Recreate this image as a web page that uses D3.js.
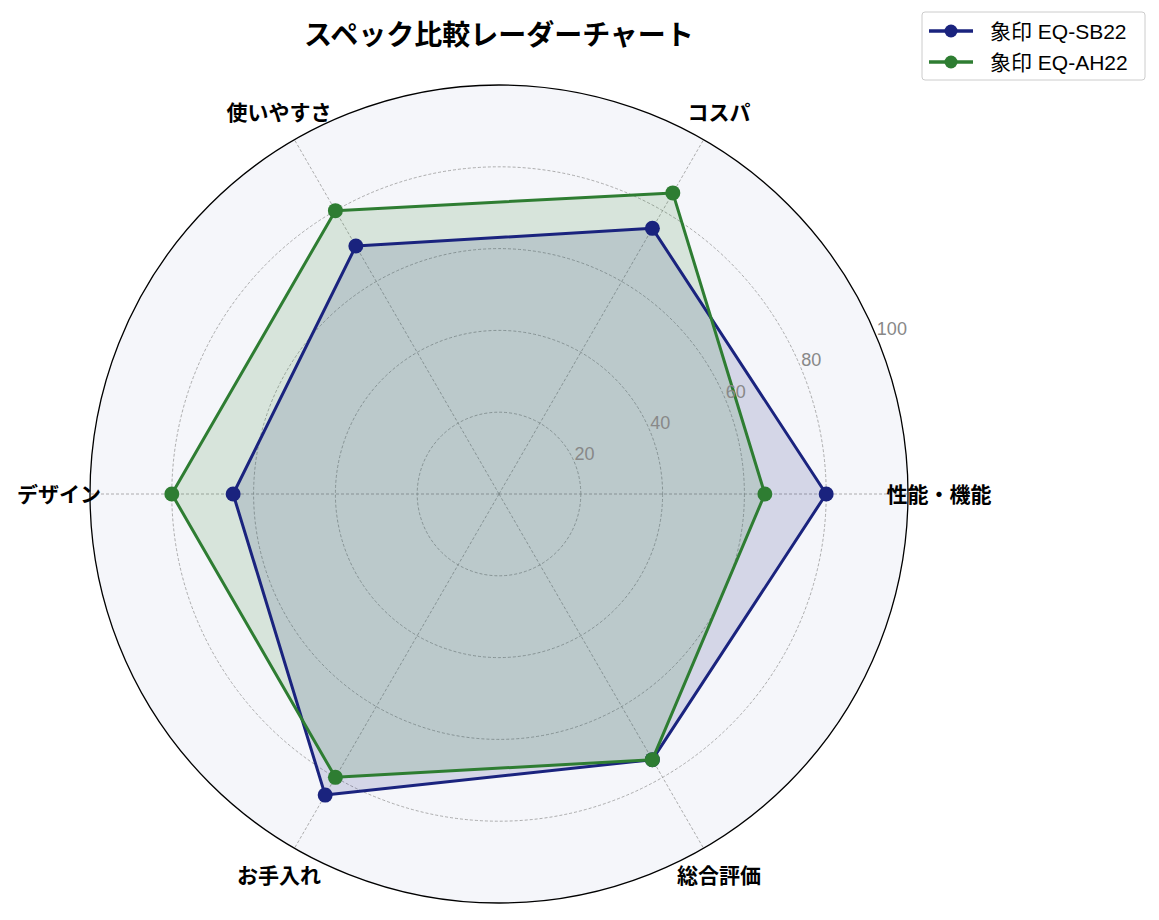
<!DOCTYPE html>
<html>
<head>
<meta charset="utf-8">
<script src="https://cdn.jsdelivr.net/npm/d3@7"></script>
<style>
  body { margin: 0; background: #fff; }
  svg text { font-family: "Liberation Sans", "Noto Sans CJK JP", sans-serif; }
</style>
</head>
<body>
<svg id="chart" width="1159" height="920"></svg>
<script>
'use strict';

var categories = ['性能・機能', 'コスパ', '使いやすさ', 'デザイン', 'お手入れ', '総合評価'];
var seriesNames = ['象印 EQ-SB22', '象印 EQ-AH22'];
var sb22Values = [80, 75, 70, 65, 85, 75];
var ah22Values = [65, 85, 80, 80, 80, 75];
var seriesColors = ['#1a237e', '#2e7d32'];
var rTicks = [20, 40, 60, 80, 100];

var cx = 499, cy = 494, outerR = 409;

var svg = d3.select('#chart');

var r = d3.scaleLinear().domain([0, 100]).range([0, outerR]);
var angle = d3.scalePoint().domain(categories).range([0, 2 * Math.PI * 5 / 6]);

function px(a, v) { return cx + r(v) * Math.cos(a); }
function py(a, v) { return cy - r(v) * Math.sin(a); }

// background disc
svg.append('circle')
    .attr('cx', cx).attr('cy', cy).attr('r', outerR)
    .attr('fill', '#f5f6fa');

// grid rings
svg.append('g').selectAll('circle')
    .data(rTicks.slice(0, -1))
    .enter().append('circle')
    .attr('cx', cx).attr('cy', cy)
    .attr('r', function(d) { return r(d); })
    .attr('fill', 'none')
    .attr('stroke', '#999')
    .attr('stroke-width', 0.8)
    .attr('stroke-dasharray', '3,2');

// spokes
svg.append('g').selectAll('line')
    .data(categories)
    .enter().append('line')
    .attr('x1', cx).attr('y1', cy)
    .attr('x2', function(d) { return px(angle(d), 100); })
    .attr('y2', function(d) { return py(angle(d), 100); })
    .attr('stroke', '#999')
    .attr('stroke-width', 0.8)
    .attr('stroke-dasharray', '3,2');

// series
var series = [sb22Values, ah22Values];
var line = d3.line()
    .x(function(d, i) { return px(angle(categories[i]), d); })
    .y(function(d, i) { return py(angle(categories[i]), d); })
    .curve(d3.curveLinearClosed);

series.forEach(function(vals, s) {
    svg.append('path')
        .attr('d', line(vals))
        .attr('fill', seriesColors[s])
        .attr('fill-opacity', 0.15)
        .attr('stroke', 'none');
});

series.forEach(function(vals, s) {
    var g = svg.append('g');
    g.append('path')
        .attr('d', line(vals))
        .attr('fill', 'none')
        .attr('stroke', seriesColors[s])
        .attr('stroke-width', 3)
        .attr('stroke-linejoin', 'round');
    g.selectAll('circle')
        .data(vals)
        .enter().append('circle')
        .attr('cx', function(d, i) { return px(angle(categories[i]), d); })
        .attr('cy', function(d, i) { return py(angle(categories[i]), d); })
        .attr('r', 7.5)
        .attr('fill', seriesColors[s]);
});

// outer circle
svg.append('circle')
    .attr('cx', cx).attr('cy', cy).attr('r', outerR)
    .attr('fill', 'none')
    .attr('stroke', '#000')
    .attr('stroke-width', 1.3);

// radial tick labels at 22.5 degrees
var labAng = 22.5 * Math.PI / 180;
svg.append('g').selectAll('text')
    .data(rTicks)
    .enter().append('text')
    .attr('x', function(d) { return px(labAng, d); })
    .attr('y', function(d) { return py(labAng, d) - 2.5; })
    .attr('font-size', 18)
    .attr('fill', '#888')
    .text(function(d) { return d; });

// category labels
svg.append('g').selectAll('text')
    .data(categories)
    .enter().append('text')
    .attr('x', function(d) { return cx + 440 * Math.cos(angle(d)); })
    .attr('y', function(d) { return cy - 440 * Math.sin(angle(d)); })
    .attr('text-anchor', 'middle')
    .attr('dominant-baseline', 'central')
    .attr('font-size', 21)
    .attr('font-weight', 'bold')
    .text(function(d) { return d; });

// title
svg.append('text')
    .attr('x', cx).attr('y', 35)
    .attr('text-anchor', 'middle')
    .attr('dominant-baseline', 'central')
    .attr('font-size', 28)
    .attr('font-weight', 'bold')
    .text('スペック比較レーダーチャート');

// legend
var legend = svg.append('g').attr('transform', 'translate(922,12)');
legend.append('rect')
    .attr('width', 223).attr('height', 68)
    .attr('rx', 3)
    .attr('fill', '#fff')
    .attr('stroke', '#ccc');
seriesNames.forEach(function(name, i) {
    var y = 19 + i * 31;
    legend.append('line')
        .attr('x1', 7).attr('x2', 51)
        .attr('y1', y).attr('y2', y)
        .attr('stroke', seriesColors[i])
        .attr('stroke-width', 3.5);
    legend.append('circle')
        .attr('cx', 29).attr('cy', y).attr('r', 6.5)
        .attr('fill', seriesColors[i]);
    legend.append('text')
        .attr('x', 68).attr('y', y)
        .attr('dominant-baseline', 'central')
        .attr('font-size', 21)
        .text(name);
});
</script>
</body>
</html>
